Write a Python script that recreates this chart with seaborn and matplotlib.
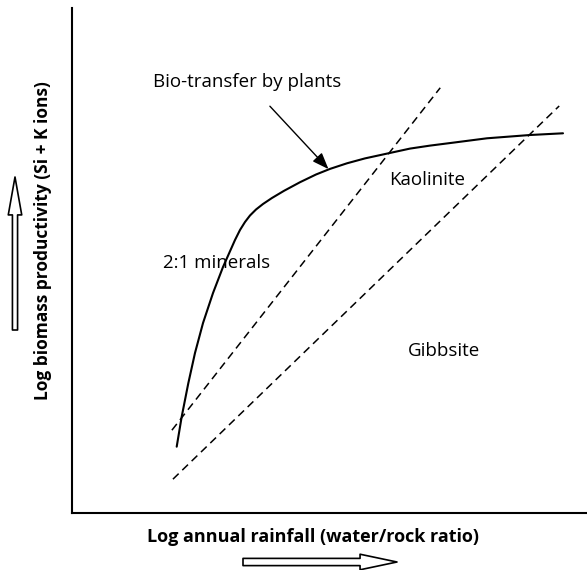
import numpy as np
import seaborn as sns
import matplotlib.pyplot as plt

# schematic values (axes run 0-100 both ways)
curve_x = [20.33, 21.30, 22.58, 23.88, 25.44, 27.38, 29.32, 31.65, 32.62, 33.59, 34.56,
           35.73, 37.09, 38.83, 41.17, 44.27, 47.38, 50.10, 53.40, 56.89, 61.17, 65.63,
           69.51, 73.98, 80.58, 88.93, 95.34]
curve_y = [13.13, 19.07, 25.68, 31.68, 37.62, 43.56, 48.71, 54.06, 56.04, 57.62, 58.91,
           60.10, 61.19, 62.38, 63.80, 65.50, 67.03, 68.14, 69.25, 70.22, 71.17, 72.16,
           72.75, 73.33, 74.20, 74.85, 75.19]

kaolinite_x = [19.4, 71.5]
kaolinite_y = [16.4, 84.2]
gibbsite_x = [19.6, 94.6]
gibbsite_y = [6.7, 80.6]

region_labels = ["2:1 minerals", "Kaolinite", "Gibbsite"]
region_x = [17.7, 61.6, 65.2]
region_y = [49.5, 65.9, 32.0]

xlabel = "Log annual rainfall (water/rock ratio)"
ylabel = "Log biomass productivity (Si + K ions)"

sns.set_style("white")
plt.rcParams['font.family'] = ['Open Sans', 'DejaVu Sans']
plt.rcParams['text.color'] = 'black'

fig = plt.figure(figsize=(5.87, 5.70), dpi=100)
ax = fig.add_axes([72 / 587, 57 / 570, 1 - 72 / 587, (513 - 8) / 570])

sns.lineplot(x=curve_x, y=curve_y, sort=False, estimator=None, color="black", lw=1.5, ax=ax)
sns.lineplot(x=kaolinite_x, y=kaolinite_y, sort=False, estimator=None, color="black",
             lw=1.1, linestyle=(0, (5.2, 3.3)), ax=ax)
sns.lineplot(x=gibbsite_x, y=gibbsite_y, sort=False, estimator=None, color="black",
             lw=1.1, linestyle=(0, (5.2, 3.3)), ax=ax)

for lab, tx, ty in zip(region_labels, region_x, region_y):
    ax.text(tx, ty, lab, fontsize=13.5, ha="left", va="center", color="black")

ax.annotate("Bio-transfer by plants", xy=(49.8, 68.1), xytext=(34.0, 85.4),
            fontsize=13.5, ha="center", va="center", color="black",
            arrowprops=dict(arrowstyle="-|>,head_length=1.0,head_width=0.38", color="black",
                            lw=1.0, mutation_scale=10, shrinkA=12, shrinkB=0))

ax.set_xlim(0, 100)
ax.set_ylim(0, 100)
ax.set_xticks([])
ax.set_yticks([])
sns.despine(ax=ax)
for side in ["left", "bottom"]:
    ax.spines[side].set_linewidth(1.5)
    ax.spines[side].set_color("black")

fig.text(313 / 587, 1 - 537 / 570, xlabel, fontsize=13, fontweight="bold", ha="center", va="center")
fig.text(43 / 587, 1 - 241 / 570, ylabel, fontsize=12.5, fontweight="bold", ha="center",
         va="center", rotation=90)

# hollow arrows next to the axis titles
ax.annotate("", xy=(397, 570 - 562), xytext=(243, 570 - 562), xycoords="figure pixels",
            textcoords="figure pixels",
            arrowprops=dict(arrowstyle="simple,head_length=2.66,head_width=1.12,tail_width=0.52",
                            fc="white", ec="black", lw=1.2, mutation_scale=10, shrinkA=0, shrinkB=0))
ax.annotate("", xy=(15, 570 - 177), xytext=(15, 570 - 330), xycoords="figure pixels",
            textcoords="figure pixels",
            arrowprops=dict(arrowstyle="simple,head_length=2.73,head_width=0.97,tail_width=0.37",
                            fc="white", ec="black", lw=1.2, mutation_scale=10, shrinkA=0, shrinkB=0))

fig.savefig("out.png", dpi=100)
